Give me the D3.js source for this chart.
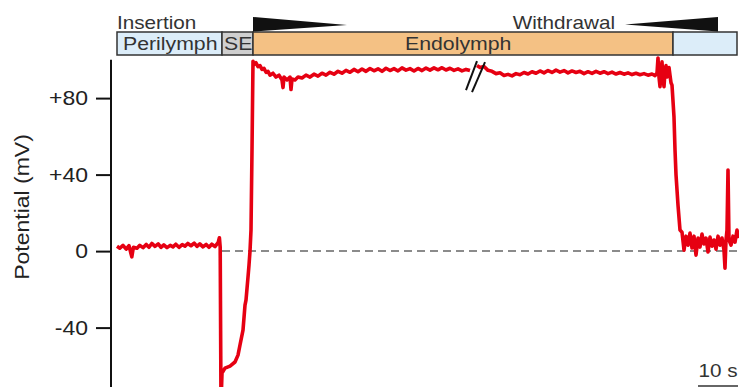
<!DOCTYPE html>
<html><head><meta charset="utf-8">
<script src="https://cdn.jsdelivr.net/npm/d3@7"></script>
<style>
html,body{margin:0;padding:0;background:#fff;}
svg{display:block;font-family:"Liberation Sans",Arial,Helvetica,sans-serif;}
</style></head>
<body>
<svg id="chart" width="739" height="387"></svg>
<script>
// ---- data (time in s as drawn, potential in mV) ----
const yTicks = [-40, 0, 40, 80];
const yTickLabels = ["-40", "0", "+40", "+80"];
const yLabel = "Potential (mV)";

// solution segments: [label, start s, end s, kind]
const segLabels = ["Perilymph", "SE", "Endolymph", ""];
const segStart = [1.5, 27.75, 35.5, 140.5];
const segEnd   = [27.75, 35.5, 140.5, 156.5];
const segKind  = ["peri", "se", "endo", "peri"];

const insertionLabel = "Insertion";
const withdrawalLabel = "Withdrawal";
const insertionWedge = [35.5, 59];     // thick -> thin
const withdrawalWedge = [128.5, 151.75]; // thin -> thick

// trace before the break
const traceA = [
 [1.5,2.5],[2.2,1.5],[3,3],[3.8,1],[4.5,2.8],[5.2,-3],[5.6,2],[6.5,1.5],[7.2,3],[8,1.8],
 [8.8,3.5],[9.5,2],[10.2,4],[11,2.5],[11.8,3.8],[12.5,2],[13.2,3.2],[14,1.8],[14.8,3],[15.5,2.2],
 [16.2,3.6],[17,2],[17.8,3.4],[18.5,2.6],[19.2,4],[20,2.8],[20.8,4.2],[21.5,2.5],[22.2,3.8],[23,2.2],
 [23.8,3.5],[24.5,2],[25.2,3.6],[26,2.4],[26.8,4.5],[27.1,7],[27.3,2],[27.5,-80],
 [27.75,-63.8],[28.5,-61.2],[29.75,-60.1],[31,-58],[31.75,-54.4],[32.25,-49.1],[33,-41.3],[33.5,-28.2],
 [33.75,-25.6],[34.25,-13.6],[34.5,-7.3],[34.75,0],[35,11],[35.25,52.8],[35.5,99.3],
 [35.75,97.5],[36.25,98.5],[36.75,96.5],[37.25,97],[37.75,95],[38.25,95.5],[38.75,93.5],[39.25,94],[39.75,92],
 [40.5,93],[41.25,91],[42,92],[42.75,89.5],[43,85.5],[43.25,91],[44,89.5],[44.75,91],[45,84.5],[45.25,90],
 [46,89.5],[46.75,91],[47.75,90.5],[48.75,92],[49.75,91],[50.75,92.5],[51.75,91.5],[52.75,93],[53.75,92],
 [54.75,93.5],[55.75,92.5],[56.75,94],[57.75,93],[58.75,94.5],[59.75,93.5],[60.75,95],[61.75,93.8],
 [62.75,95.2],[63.75,94],[64.75,95.5],[65.75,94.3],[66.75,95.3],[67.75,94],[68.75,95.6],[69.75,94.4],
 [70.75,95.4],[71.75,94.2],[72.75,95.8],[73.75,94.6],[74.75,95.4],[75.75,94.2],[76.75,95.5],[77.75,94.4],
 [78.75,95.7],[79.75,94.6],[80.75,95.8],[81.75,94.8],[82.75,95.9],[83.75,94.7],[84.75,95.6],[85.75,94.5],
 [86.75,95.3],[87.75,94.2],[88.75,95],[89.75,94.4]
];
// trace after the break
const traceB = [
 [91.5,97],[92.25,96],[93.25,96.5],[94.25,94.5],[95.25,94],[96.25,92.8],[97.25,93.2],[98.25,91.8],
 [99.25,92.4],[100.25,91.6],[101.25,92.8],[102.25,92.2],[103.25,93.4],[104.25,92.6],[105.25,93.8],
 [106.25,93],[107.25,94.2],[108.25,93.2],[109.25,94.4],[110.25,93.4],[111.25,94.6],[112.25,93.6],
 [113.25,94.4],[114.25,93.2],[115.25,94.2],[116.25,93.4],[117.25,94],[118.25,92.8],[119.25,93.8],
 [120.25,92.9],[121.25,94],[122.25,93],[123.25,93.8],[124.25,92.8],[125.25,93.6],[126.25,92.6],
 [127.25,93.4],[128.25,92.5],[129.25,93.2],[130.25,92.3],[131.25,93],[132.25,92.2],[133.25,92.8],
 [134.25,92],[135.25,92.6],[136,91.8],[136.5,93],[136.75,101],[137,91],[137.25,86],[137.5,92],
 [137.75,99],[138,90],[138.25,86],[138.5,94],[138.75,97],[139,91],[139.25,93],[139.5,96],[139.75,92],
 [140,88],[140.25,86.8],[140.75,70],[141,53],[141.25,40],[141.75,24],[142.25,11],
 [142.75,9.9],[143.25,0.5],[143.75,7.8],[144.25,3.1],[144.75,9.4],[145.25,1.6],[145.75,7.8],[146.25,-2.1],
 [146.75,6.8],[147.25,2.1],[147.75,8.9],[148.25,3.7],[148.75,6.8],[149.25,-0.5],[149.75,7.3],[150.25,2.6],
 [150.75,5.8],[151.25,1],[151.75,7.8],[152.25,3.1],[152.75,6.8],[153.25,0.5],[153.5,-8.9],[153.75,5.8],
 [154,11],[154.25,42.4],[154.5,5.8],[155,3.1],[155.5,7.8],[156,4.7],[156.5,11],[157,6.8]
];
const breakMarks = [[[88.75,84.2],[91.5,99.3]], [[90.25,83.1],[93.5,98.8]]];
const baselineSpan = [27.75, 157];
const scaleBar = [146.75, 156.75];
const scaleBarLabel = "10 s";

// ---- drawing ----
const svg = d3.select("#chart");
const x = d3.scaleLinear().domain([0, 157]).range([111, 739]);
const y = d3.scaleLinear().domain([-40, 80]).range([327.6, 98.1]);
const SX = 1.15;
const ink = "#333";

// baseline dashed
svg.append("line")
  .attr("x1", x(baselineSpan[0])).attr("x2", x(baselineSpan[1]))
  .attr("y1", y(0)).attr("y2", y(0))
  .attr("stroke", "#666").attr("stroke-width", 1.5).attr("stroke-dasharray", "8,5");

// y axis
const yAxis = d3.axisLeft(y).tickValues(yTicks).tickSize(15).tickFormat((d,i)=>"");
const gA = svg.append("g").attr("transform", `translate(${x(0)},0)`).call(yAxis);
gA.select(".domain").remove();
gA.selectAll(".tick line").attr("stroke", "#111").attr("stroke-width", 2);
svg.append("line").attr("x1", x(0)).attr("x2", x(0)).attr("y1", y(100)).attr("y2", 387)
  .attr("stroke", "#111").attr("stroke-width", 2);
svg.append("g").selectAll("text").data(yTicks).join("text")
  .attr("transform", d => `translate(88,${y(d)}) scale(${SX},1)`)
  .attr("text-anchor", "end").attr("dy", "0.36em")
  .attr("font-size", 20).attr("fill", "#222")
  .text((d,i) => yTickLabels[i]);

svg.append("text")
  .attr("transform", `translate(29,207) rotate(-90) scale(${SX},1)`)
  .attr("text-anchor", "middle").attr("font-size", 20).attr("fill", "#222")
  .text(yLabel);

// trace
const line = d3.line().x(d => x(d[0])).y(d => y(d[1]));
svg.append("clipPath").attr("id", "clp").append("rect")
  .attr("x", 0).attr("y", 0).attr("width", 739).attr("height", 387);
[traceA, traceB].forEach(tr => {
  svg.append("path").datum(tr).attr("d", line)
    .attr("fill", "none").attr("stroke", "#e60012").attr("stroke-width", 3.6)
    .attr("stroke-linejoin", "round").attr("clip-path", "url(#clp)");
});

// break marks
breakMarks.forEach(m => {
  svg.append("line").attr("x1", x(m[0][0])).attr("y1", y(m[0][1]))
    .attr("x2", x(m[1][0])).attr("y2", y(m[1][1]))
    .attr("stroke", "#111").attr("stroke-width", 2);
});

// header boxes
const fillOf = {peri: "#dcedf9", se: "#cfcfcf", endo: "#f4c184"};
const boxTop = 32, boxH = 23;
segLabels.forEach((lab, i) => {
  svg.append("rect").attr("x", x(segStart[i])).attr("y", boxTop)
    .attr("width", x(segEnd[i]) - x(segStart[i])).attr("height", boxH)
    .attr("fill", fillOf[segKind[i]]).attr("stroke", ink).attr("stroke-width", 1.5);
});
const labX = [123, 224, 405, 0];
segLabels.forEach((lab, i) => {
  if (!lab) return;
  svg.append("text").attr("transform", `translate(${labX[i]},50) scale(${SX},1)`)
    .attr("font-size", 18.5).attr("fill", ink).text(lab);
});

// wedges
svg.append("path")
  .attr("d", `M${x(insertionWedge[0])},17 L${x(insertionWedge[1])},25 L${x(insertionWedge[0])},31.5 Z`)
  .attr("fill", "#111");
svg.append("path")
  .attr("d", `M${x(withdrawalWedge[0])},24.5 L${x(withdrawalWedge[1])},17 L${x(withdrawalWedge[1])},31.5 Z`)
  .attr("fill", "#111");
svg.append("text").attr("transform", `translate(117,29) scale(${SX},1)`)
  .attr("font-size", 18).attr("fill", ink).text(insertionLabel);
svg.append("text").attr("transform", `translate(615,29) scale(${SX},1)`)
  .attr("text-anchor", "end").attr("font-size", 18).attr("fill", ink).text(withdrawalLabel);

// scale bar
svg.append("line").attr("x1", x(scaleBar[0])).attr("x2", x(scaleBar[1]))
  .attr("y1", 386).attr("y2", 386).attr("stroke", ink).attr("stroke-width", 1.5);
svg.append("text").attr("transform", `translate(${(x(scaleBar[0])+x(scaleBar[1]))/2},377) scale(${SX},1)`)
  .attr("text-anchor", "middle").attr("font-size", 18).attr("fill", ink).text(scaleBarLabel);
</script>
</body></html>
